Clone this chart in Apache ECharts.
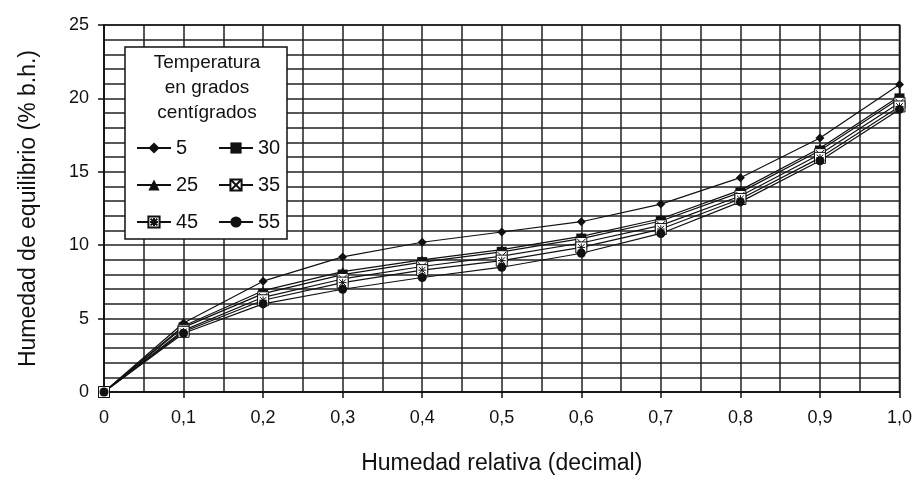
<!DOCTYPE html>
<html>
<head>
<meta charset="utf-8">
<script src="https://cdn.jsdelivr.net/npm/echarts@6/dist/echarts.min.js"></script>
<style>html,body{margin:0;padding:0;background:#fff}#c{width:915px;height:480px}</style>
</head>
<body>
<div id="c"></div>
<script>
const xValues = [0, 0.1, 0.2, 0.3, 0.4, 0.5, 0.6, 0.7, 0.8, 0.9, 1.0];
const s5  = [0, 4.7, 7.55, 9.2, 10.2, 10.9, 11.6, 12.8, 14.6, 17.3, 20.95];
const s25 = [0, 4.5, 6.9, 8.2, 9.0, 9.7, 10.6, 11.8, 13.75, 16.6, 20.15];
const s30 = [0, 4.4, 6.7, 8.0, 8.85, 9.55, 10.45, 11.65, 13.6, 16.45, 20.0];
const s35 = [0, 4.2, 6.45, 7.7, 8.55, 9.25, 10.15, 11.35, 13.35, 16.2, 19.7];
const s45 = [0, 4.1, 6.25, 7.45, 8.3, 8.95, 9.85, 11.1, 13.15, 15.95, 19.45];
const s55 = [0, 4.0, 6.0, 7.0, 7.8, 8.5, 9.45, 10.8, 12.95, 15.75, 19.25];
const legendCol1 = ['5', '25', '45'];
const legendCol2 = ['30', '35', '55'];
const legendTitle = ['Temperatura', 'en grados', 'centígrados'];
const xTitle = 'Humedad relativa (decimal)';
const yTitle = 'Humedad de equilibrio (% b.h.)';

const FONT = 'Liberation Sans';
const pair = arr => xValues.map((x, i) => [x, arr[i]]);
const boxX = 'path://M0,0 L10,0 L10,10 L0,10 Z M1,1 L9,9 M9,1 L1,9';
const boxStar = 'path://M0,0 L10,0 L10,10 L0,10 Z M2,2 L8,8 M8,2 L2,8 M5,1.5 L5,8.5 M1.5,5 L8.5,5';

function mk(name, data, symbol, size, fill) {
  return {
    name: name, type: 'line', data: pair(data), symbol: symbol, symbolSize: size,
    lineStyle: {color: '#111', width: 1.2},
    itemStyle: {color: fill, borderColor: '#111', borderWidth: fill === '#fff' ? 1 : 0},
    animation: false, z: 5
  };
}

const legendBase = {orient: 'vertical', top: 133, itemWidth: 34, itemHeight: 14, itemGap: 17, z: 30,
  textStyle: {fontSize: 20, color: '#111', fontFamily: FONT, padding: [0, 0, 0, 0]}, selectedMode: false};

const chart = echarts.init(document.getElementById('c'));
chart.setOption({
  backgroundColor: '#fff',
  textStyle: {fontFamily: FONT},
  grid: {left: 104, right: 11, top: 25, bottom: 85, show: true, borderColor: '#111', borderWidth: 1.5},
  xAxis: {
    type: 'value', min: 0, max: 1, interval: 0.1,
    name: xTitle, nameLocation: 'middle', nameGap: 60,
    nameTextStyle: {fontSize: 23, color: '#111', fontFamily: FONT},
    axisLine: {lineStyle: {color: '#111', width: 1.5}},
    axisTick: {show: true, length: 6, lineStyle: {color: '#111', width: 1.5}},
    axisLabel: {fontSize: 18, color: '#111', margin: 17, fontFamily: FONT,
      formatter: v => v === 0 ? '0' : v.toFixed(1).replace('.', ',')},
    splitLine: {show: true, lineStyle: {color: '#222', width: 1.5}},
    minorTick: {show: false, splitNumber: 2},
    minorSplitLine: {show: true, lineStyle: {color: '#222', width: 1.5}}
  },
  yAxis: {
    type: 'value', min: 0, max: 25, interval: 5,
    name: yTitle, nameLocation: 'middle', nameGap: 64, nameRotate: 90,
    nameTextStyle: {fontSize: 23, color: '#111', fontFamily: FONT},
    axisLine: {show: true, lineStyle: {color: '#111', width: 1.5}},
    axisTick: {show: true, length: 6, lineStyle: {color: '#111', width: 1.5}},
    axisLabel: {fontSize: 18, color: '#111', margin: 15, fontFamily: FONT},
    splitLine: {show: true, lineStyle: {color: '#222', width: 1.5}},
    minorTick: {show: false, splitNumber: 5},
    minorSplitLine: {show: true, lineStyle: {color: '#222', width: 1.5}}
  },
  legend: [
    Object.assign({data: legendCol1, left: 131}, legendBase),
    Object.assign({data: legendCol2, left: 213}, legendBase)
  ],
  graphic: [
    {type: 'rect', z: 10, shape: {x: 125, y: 47, width: 162, height: 192},
     style: {fill: '#fff', stroke: '#111', lineWidth: 1.5}},
    {type: 'text', z: 11, x: 207, y: 50,
     style: {text: legendTitle.join('\n'), fill: '#111', font: '19px "Liberation Sans"', lineHeight: 25, align: 'center'}}
  ],
  series: [
    mk('5', s5, 'diamond', 9, '#111'),
    mk('25', s25, 'triangle', 9, '#111'),
    mk('30', s30, 'rect', 10, '#111'),
    mk('35', s35, boxX, 11, '#fff'),
    mk('45', s45, boxStar, 11, '#fff'),
    mk('55', s55, 'circle', 9, '#111')
  ]
});
</script>
</body>
</html>
